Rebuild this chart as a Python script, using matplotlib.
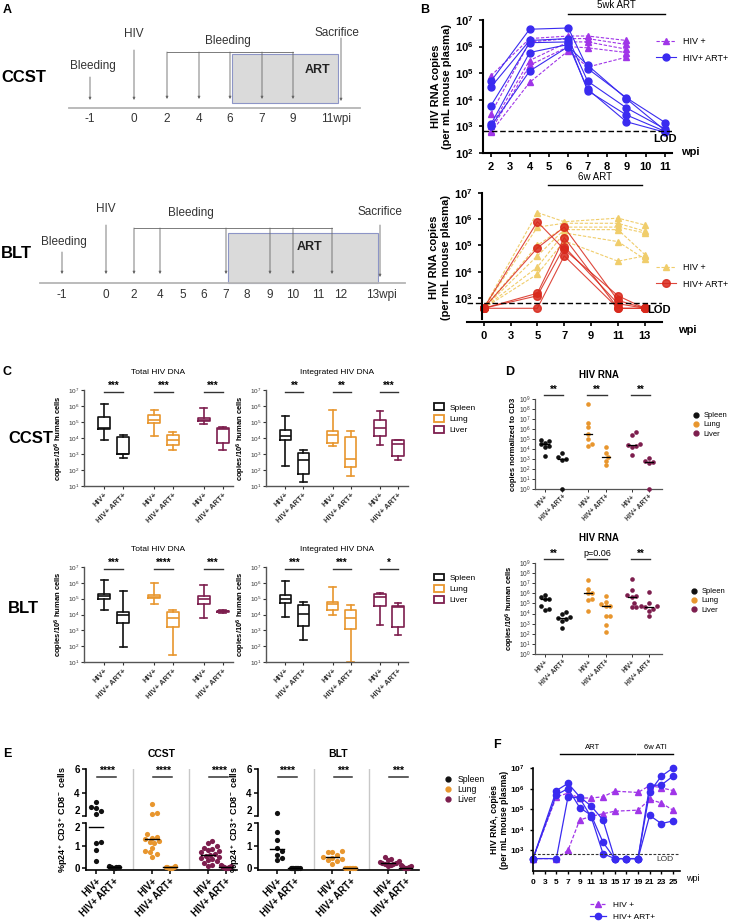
import numpy as np
import matplotlib
matplotlib.use('Agg')
import matplotlib.pyplot as plt
from matplotlib.patches import Rectangle, Patch
from matplotlib.lines import Line2D
from matplotlib.ticker import FixedLocator, FuncFormatter, NullLocator

plt.rcParams['font.family'] = ['Liberation Sans', 'DejaVu Sans']
plt.rcParams['mathtext.fontset'] = 'custom'
plt.rcParams['mathtext.rm'] = 'Liberation Sans'
plt.rcParams['mathtext.bf'] = 'Liberation Sans:bold'
plt.rcParams['mathtext.it'] = 'Liberation Sans:italic'
plt.rcParams['mathtext.default'] = 'regular'

# ---------------- data ----------------
TISSUES = ['Spleen', 'Lung', 'Liver']
TISSUE_COLORS = ['#111111', '#E8962E', '#7D1E4E']
GROUPS = ['HIV+', 'HIV+ ART+']

# A: timelines
CCST_WEEKS = ['-1', '0', '2', '4', '6', '7', '9', '11wpi']
BLT_WEEKS = ['-1', '0', '2', '4', '5', '6', '7', '8', '9', '10', '11', '12', '13wpi']

# B top (CCST plasma viral load)
B1_TICKS = [2, 3, 4, 5, 6, 7, 8, 9, 10, 11]
B1_WEEKS_HIV = [2, 4, 6, 7, 9]
B1_HIV = [[8e4, 2e6, 2.5e6, 2.5e6, 1.7e6],
          [3e3, 1.5e6, 2e6, 2e6, 1.2e6],
          [1e3, 3e5, 1.5e6, 1.5e6, 8e5],
          [700, 2e5, 1e6, 9e5, 6e5],
          [600, 4.5e4, 7e5, 1.7e5, 4e5]]
B1_WEEKS_ART = [2, 4, 6, 7, 9, 11]
B1_ART = [[5e4, 4.5e6, 5e6, 1.5e5, 1.2e4, 1.4e3],
          [3e4, 1.7e6, 2e6, 5e4, 5e3, 800],
          [6e3, 1.4e6, 1.5e6, 2.2e4, 2.7e3, 650],
          [1.2e3, 6e5, 1.2e6, 2.5e4, 1.5e3, 600],
          [1e3, 1.2e5, 1e6, 2e5, 1.1e4, 700]]

# B bottom (BLT plasma viral load)
B2_TICKS = ['0', '3', '5', '7', '9', '11', '13']
B2_WEEKS = ['0', '5', '7', '11', '13']
B2_HIV = [[400, 1.8e6, 8e5, 1.1e6, 6e5],
          [400, 5e5, 7e5, 7e5, 3.5e5],
          [400, 1e5, 5e5, 5e5, 3e5],
          [400, 4e4, 4e5, 4e5, 4.5e4],
          [400, 1.5e4, 3e5, 1.4e5, 3e4],
          [400, 8e3, 1.5e5, 2.5e4, 4e4]]
B2_ART = [[400, 8e5, 7e4, 1.2e3, 400],
          [400, 8e4, 5e5, 800, 400],
          [400, 1.5e3, 2e5, 400, 400],
          [400, 1.2e3, 9e4, 600, 400],
          [400, 400, 4e4, 400, 400]]
LOD = 650

# C: box stats (whisker low, q1, median, q3, whisker high) per tissue x group
C_CCST_TOTAL = [(8e3, 3.5e4, 4e4, 2e5, 1.3e6), (6e2, 1e3, 1e3, 1.1e4, 1.6e4),
                (1.3e4, 9e4, 1.4e5, 2.6e5, 6e5), (1.8e3, 3.5e3, 7e3, 1.6e4, 2.5e4),
                (8e4, 1.1e5, 1.4e5, 1.7e5, 8e5), (1.7e3, 5e3, 3.5e4, 4.5e4, 5e4)]
C_CCST_INT = [(170, 8e3, 1.3e4, 3e4, 2.4e5), (18, 54, 450, 1.2e3, 1.9e3),
              (3.2e3, 5e3, 1.6e4, 2.6e4, 5.3e5), (43, 160, 500, 1.2e4, 2.7e4),
              (3.5e3, 1.3e4, 4.5e4, 1.3e5, 4.6e5), (400, 700, 4e3, 7e3, 7.5e3)]
C_BLT_TOTAL = [(1.8e4, 9.5e4, 1.5e5, 2e5, 1.5e6), (90, 3e3, 1e4, 1.4e4, 3e5),
               (4.9e4, 1.05e5, 1.3e5, 1.8e5, 1e6), (26, 1.7e3, 5.9e3, 1.5e4, 1.9e4),
               (5.9e3, 4.4e4, 9e4, 1.5e5, 6.8e5), (1.3e4, 1.4e4, 1.6e4, 1.7e4, 1.8e4)]
C_BLT_INT = [(6.8e3, 5.6e4, 1e5, 1.7e5, 1.3e6), (260, 2e3, 1.1e4, 3.8e4, 6.5e4),
             (9.5e3, 1.9e4, 4.4e4, 6.5e4, 5.6e5), (10, 1.3e3, 5.9e3, 1.8e4, 4e4),
             (2.1e3, 3.7e4, 1.3e5, 1.9e5, 2.2e5), (490, 1.6e3, 2.9e4, 3.7e4, 5.6e4)]
C_STARS = {'ccst_total': ['***', '***', '***'], 'ccst_int': ['**', '**', '***'],
           'blt_total': ['***', '****', '***'], 'blt_int': ['***', '***', '*']}

# D: cell-associated HIV RNA (points per mouse)
D_TOP = [[8e4, 6e4, 4e4, 3e4, 1.5e4, 2e4, 2e3], [4e3, 1.5e3, 1e3, 8e2, 1],
         [3e8, 4e6, 1.5e6, 3e5, 1e5, 3.5e4, 2e4], [1.6e4, 4e3, 1.7e3, 7e2, 2.5e2],
         [5e5, 2.5e5, 3e4, 2.5e4, 2e4, 1.7e4, 2.5e3], [1.2e3, 7e2, 5e2, 4e2, 1]]
D_BOT = [[7e5, 4.5e5, 3e5, 2.5e5, 5e4, 3e4, 2.5e4], [1.3e4, 1e4, 5e3, 4e3, 3e3, 2e3, 4e2],
         [2e7, 3e6, 1e6, 1e6, 3e5, 2e5, 2e4], [5e5, 1.5e5, 8e4, 6e4, 5e4, 6e3, 6e3, 7e2, 1.5e2],
         [2.5e7, 2e6, 7e5, 5e5, 4e5, 1e5, 4e4, 4e4], [1.5e6, 1e5, 5e4, 4e4, 5e4, 3e4, 2e4, 6e3]]
D_STARS_TOP = ['**', '**', '**']
D_STARS_BOT = ['**', 'p=0.06', '**']

# E: %p24+ cells
E_CCST = [[3.2, 2.75, 2.4, 2.7, 2.2, 1.15, 1.1, 0.8, 0.3],
          [0.08, 0.06, 0.05, 0.05, 0.04, 0.04, 0.03, 0.03, 0.02],
          [3.05, 2.3, 2.2, 1.5, 1.4, 1.35, 1.3, 1.2, 1.15, 1.1, 0.9, 0.75, 0.7, 0.65, 0.5],
          [0.08, 0.06, 0.05, 0.04, 0.03, 0.03, 0.02, 0.02],
          [1.2, 1.1, 1.0, 0.9, 0.85, 0.8, 0.75, 0.7, 0.65, 0.6, 0.55, 0.5, 0.45, 0.4,
           0.35, 0.3, 0.25, 0.15, 0.1],
          [0.12, 0.1, 0.08, 0.07, 0.05, 0.05, 0.04, 0.03, 0.03, 0.02, 0.02]]
E_CCST_LINE = [1.84, 0.04, 1.28, 0.04, 0.58, 0.04]
E_BLT = [[2.3, 1.6, 1.25, 0.9, 0.75, 0.6, 0.45, 0.35],
         [0.03, 0.02, 0.02, 0.01, 0.01, 0.01, 0.0, 0.0],
         [0.75, 0.72, 0.7, 0.6, 0.5, 0.45, 0.4, 0.35, 0.3, 0.2],
         [0.03, 0.02, 0.02, 0.01, 0.01, 0.01, 0.0],
         [0.5, 0.4, 0.35, 0.3, 0.28, 0.25, 0.22, 0.2, 0.18, 0.15, 0.1],
         [0.15, 0.1, 0.08, 0.06, 0.04, 0.03, 0.02, 0.01, 0.0]]
E_BLT_LINE = [0.83, 0.01, 0.48, 0.01, 0.25, 0.02]
E_STARS_CCST = ['****', '****', '****']
E_STARS_BLT = ['****', '***', '***']

# F: ART interruption
F_TICKS = ['0', '3', '5', '7', '9', '11', '13', '15', '17', '19', '21', '23', '25']
F_WEEKS_HIV = ['0', '5', '7', '9', '11', '13', '15', '19', '21', '23', '25']
F_HIV = [[400, 4e5, 6e5, 3.5e5, 3.5e5, 4e5, 7.5e5, 6.5e5, 1.4e6, 1.1e6, 8e5],
         [400, 400, 1e3, 3e4, 4.5e4, 6e4, 8e4, 9e4, 3e5, 2e5, 9e4]]
F_WEEKS_ART = ['0', '5', '7', '9', '11', '13', '15', '17', '19', '21', '23', '25']
F_ART = [[400, 8e5, 1.8e6, 4e5, 1.4e5, 3e4, 400, 400, 400, 7e5, 4e6, 1e7],
         [400, 5e5, 1e6, 1.2e5, 5e4, 2.5e3, 400, 400, 400, 1.4e6, 1.5e6, 4e6],
         [400, 400, 4e5, 3.5e5, 4e4, 700, 400, 400, 400, 5e4, 2e4, 2.7e4]]

PURPLE = '#A035E8'
BLUE = '#3A2BF0'
YELLOW = '#F0CD6B'
RED = '#D8281B'

# ---------------- figure ----------------
W, H = 729, 922
fig = plt.figure(figsize=(W / 100, H / 100), dpi=100)


def add_ax(x0, y0, x1, y1):
    ax = fig.add_axes([x0 / W, 1 - y1 / H, (x1 - x0) / W, (y1 - y0) / H])
    ax.patch.set_alpha(0)
    for s in ('top', 'right'):
        ax.spines[s].set_visible(False)
    return ax


def log_fmt(bold=False):
    if bold:
        return FuncFormatter(lambda v, p: r'$\mathbf{10^{%d}}$' % int(round(np.log10(v))))
    return FuncFormatter(lambda v, p: r'$10^{%d}$' % int(round(np.log10(v))))


ax0 = fig.add_axes([0, 0, 1, 1])
ax0.set_xlim(0, W)
ax0.set_ylim(H, 0)
ax0.axis('off')

# panel letters
for lab, x, y in [('A', 3, 10), ('B', 420, 10), ('C', 3, 372), ('D', 505, 372),
                  ('E', 3, 754), ('F', 493, 745)]:
    ax0.text(x, y, lab, fontsize=9, fontweight='bold', ha='left', va='center')

# ---------------- A: schematic ----------------
TXT = '#333333'
LN = '#666666'


def arrow(x, y0, y1):
    ax0.annotate('', xy=(x, y1), xytext=(x, y0),
                 arrowprops=dict(arrowstyle='-|>', color=LN, lw=0.6, mutation_scale=3.5,
                                 shrinkA=0, shrinkB=0))


# CCST timeline
ccst_x = [90, 134, 167, 199, 230, 262, 293, 336]
ax0.add_patch(Rectangle((232, 54), 106, 49, facecolor='#dadada', edgecolor='#8d95c7', lw=0.8))
ax0.plot([69, 360], [108, 108], color='#b5b5b5', lw=1.3)
for lab, x in zip(CCST_WEEKS, ccst_x):
    ax0.text(x, 119, lab, ha='center', va='center', fontsize=8.5, color=TXT)
arrow(90, 77, 100)
arrow(134, 50, 100)
ax0.plot([167, 293], [52, 52], color=LN, lw=0.6)
for x in [167, 199, 230, 262, 293]:
    arrow(x, 52, 99)
arrow(341, 38, 101)
ax0.text(93, 66, 'Bleeding', ha='center', va='center', fontsize=8.5, color=TXT)
ax0.text(134, 34, 'HIV', ha='center', va='center', fontsize=8.5, color=TXT)
ax0.text(228, 41, 'Bleeding', ha='center', va='center', fontsize=8.5, color=TXT)
ax0.text(337, 33, 'Sacrifice', ha='center', va='center', fontsize=8.5, color=TXT)
ax0.text(318, 70, 'ART', ha='center', va='center', fontsize=9, fontweight='bold', color='#222')
ax0.text(1, 78, 'CCST', ha='left', va='center', fontsize=12, fontweight='bold')

# BLT timeline
blt_x = [62, 106, 134, 160, 183, 204, 226, 247, 270, 293, 318, 341, 381]
ax0.add_patch(Rectangle((228, 233), 150, 50, facecolor='#dadada', edgecolor='#8d95c7', lw=0.8))
ax0.plot([40, 405], [283, 283], color='#b5b5b5', lw=1.3)
for lab, x in zip(BLT_WEEKS, blt_x):
    ax0.text(x, 295, lab, ha='center', va='center', fontsize=8.5, color=TXT)
arrow(62, 252, 274)
arrow(106, 225, 274)
ax0.plot([134, 332], [228, 228], color=LN, lw=0.6)
for x in [134, 160, 226, 270, 293, 332]:
    arrow(x, 228, 274)
arrow(380, 225, 277)
ax0.text(64, 242, 'Bleeding', ha='center', va='center', fontsize=8.5, color=TXT)
ax0.text(106, 209, 'HIV', ha='center', va='center', fontsize=8.5, color=TXT)
ax0.text(191, 213, 'Bleeding', ha='center', va='center', fontsize=8.5, color=TXT)
ax0.text(380, 212, 'Sacrifice', ha='center', va='center', fontsize=8.5, color=TXT)
ax0.text(310, 247, 'ART', ha='center', va='center', fontsize=9, fontweight='bold', color='#222')
ax0.text(1, 253, 'BLT', ha='left', va='center', fontsize=12, fontweight='bold')


# ---------------- B ----------------
def style_b(ax, fs=8):
    for s in ('left', 'bottom'):
        ax.spines[s].set_linewidth(1.5)
    ax.tick_params(width=1.2, length=3, labelsize=fs)
    ax.yaxis.set_minor_locator(NullLocator())
    ax.yaxis.set_major_formatter(log_fmt(True))
    for t in ax.get_xticklabels():
        t.set_fontweight('bold')


DASH = (0, (3, 1.5))

axb1 = add_ax(483, 20, 672, 153)
for i, ys in enumerate(B1_HIV):
    axb1.plot(B1_WEEKS_HIV, ys, ls=DASH, lw=0.8, color=PURPLE, marker='^', ms=4.5,
              label='HIV +' if i == 0 else None, clip_on=False)
for i, ys in enumerate(B1_ART):
    axb1.plot(B1_WEEKS_ART, ys, lw=0.8, color=BLUE, marker='o', ms=5,
              label='HIV+ ART+' if i == 0 else None, clip_on=False)
axb1.axhline(LOD, color='black', ls=(0, (4, 2)), lw=1)
axb1.set_yscale('log')
axb1.set_ylim(1e2, 1e7)
axb1.set_xlim(1.59, 11.36)
axb1.set_yticks([1e2, 1e3, 1e4, 1e5, 1e6, 1e7])
axb1.set_xticks(B1_TICKS)
style_b(axb1)
axb1.set_ylabel('HIV RNA copies\n(per mL mouse plasma)', fontsize=8, fontweight='bold', labelpad=2)
axb1.text(10.4, 3.3e2, 'LOD', fontsize=8, fontweight='bold', ha='left', va='center')
axb1.plot([6, 11], [1.045, 1.045], color='black', lw=1,
          transform=axb1.get_xaxis_transform(), clip_on=False)
axb1.text(8.5, 1.11, '5wk ART', fontsize=7, ha='center', va='center',
          transform=axb1.get_xaxis_transform())
axb1.legend(loc='center left', bbox_to_anchor=(648 / W, 1 - 50 / H), bbox_transform=fig.transFigure,
            frameon=False, fontsize=6.5, handlelength=2.2, labelspacing=0.8)
ax0.text(690, 152, 'wpi', fontsize=8, fontweight='bold', ha='center', va='center')

axb2 = add_ax(467, 193, 662, 322)
b2x = {w: i for i, w in enumerate(B2_TICKS)}
xb2 = [b2x[w] for w in B2_WEEKS]
for i, ys in enumerate(B2_HIV):
    axb2.plot(xb2, ys, ls=DASH, lw=0.8, color=YELLOW, marker='^', ms=5,
              label='HIV +' if i == 0 else None, clip_on=False)
for i, ys in enumerate(B2_ART):
    axb2.plot(xb2, ys, lw=0.8, color=RED, alpha=0.85, marker='o', ms=5.5,
              label='HIV+ ART+' if i == 0 else None, clip_on=False)
axb2.axhline(LOD, color='black', ls=(0, (4, 2)), lw=1)
axb2.set_yscale('log')
axb2.set_ylim(1.2e2, 1e7)
axb2.set_xlim(-0.62, 6.64)
axb2.set_yticks([1e3, 1e4, 1e5, 1e6, 1e7])
axb2.set_xticks(range(len(B2_TICKS)))
axb2.set_xticklabels(B2_TICKS)
axb2.spines['left'].set_position(('data', -0.08))
axb2.spines['left'].set_bounds(1.6e2, 1e7)
style_b(axb2)
axb2.set_ylabel('HIV RNA copies\n(per mL mouse plasma)', fontsize=8, fontweight='bold', labelpad=2)
axb2.text(6.1, 3.5e2, 'LOD', fontsize=8, fontweight='bold', ha='left', va='center')
axb2.plot([2.4, 5.9], [1.062, 1.062], color='black', lw=1,
          transform=axb2.get_xaxis_transform(), clip_on=False)
axb2.text(4.15, 1.125, '6w ART', fontsize=7, ha='center', va='center',
          transform=axb2.get_xaxis_transform())
axb2.legend(loc='center left', bbox_to_anchor=(648 / W, 1 - 276 / H), bbox_transform=fig.transFigure,
            frameon=False, fontsize=6.5, handlelength=2.2, labelspacing=0.8)
ax0.text(687, 330, 'wpi', fontsize=8, fontweight='bold', ha='center', va='center')

# ---------------- C ----------------
OFF = 0.19
XPOS = [g + d for g in range(3) for d in (-OFF, OFF)]


def box_panel(ax, stats, stars, title):
    bx = [dict(whislo=s[0], q1=s[1], med=s[2], q3=s[3], whishi=s[4]) for s in stats]
    for i, b in enumerate(bx):
        c = TISSUE_COLORS[i // 2]
        ax.bxp([b], positions=[XPOS[i]], widths=0.24, showfliers=False, capwidths=[0.14],
               boxprops=dict(color=c, lw=1.2), whiskerprops=dict(color=c, lw=1.2),
               capprops=dict(color=c, lw=1.2), medianprops=dict(color=c, lw=1.2),
               manage_ticks=False)
    ax.set_yscale('log')
    ax.set_ylim(10, 1e7)
    ax.set_xlim(-0.6, 2.4)
    ax.yaxis.set_major_locator(FixedLocator([10 ** k for k in range(1, 8)]))
    ax.yaxis.set_minor_locator(NullLocator())
    ax.yaxis.set_major_formatter(log_fmt())
    ax.set_xticks(XPOS)
    ax.set_xticklabels(GROUPS * 3, rotation=45, ha='right', rotation_mode='anchor',
                       fontsize=5.5, fontweight='bold')
    ax.tick_params(axis='y', labelsize=4.6, length=2.5, width=0.8, pad=1, colors='#333')
    ax.tick_params(axis='x', length=2.5, width=0.8, pad=1.5, colors='#333')
    for s in ('left', 'bottom'):
        ax.spines[s].set_color('#555')
        ax.spines[s].set_linewidth(1.0)
    ax.set_ylabel('copies/10$^6$ human cells', fontsize=5.5, fontweight='bold', labelpad=1)
    for g, st in enumerate(stars):
        ax.plot([g - OFF, g + OFF], [7.5e6, 7.5e6], color='#333', lw=1, clip_on=False)
        ax.text(g, 8.5e6, st, ha='center', va='bottom', fontsize=7, fontweight='bold', clip_on=False)
    ax.text(0.5, 1.18, title, transform=ax.transAxes, ha='center', va='center', fontsize=6)


axc1 = add_ax(84, 390, 233, 486)
box_panel(axc1, C_CCST_TOTAL, C_STARS['ccst_total'], 'Total HIV DNA')
axc2 = add_ax(266, 390, 408, 486)
box_panel(axc2, C_CCST_INT, C_STARS['ccst_int'], 'Integrated HIV DNA')
axc3 = add_ax(84, 567, 233, 662)
box_panel(axc3, C_BLT_TOTAL, C_STARS['blt_total'], 'Total HIV DNA')
axc4 = add_ax(266, 567, 408, 662)
box_panel(axc4, C_BLT_INT, C_STARS['blt_int'], 'Integrated HIV DNA')
ax0.text(8, 438, 'CCST', ha='left', va='center', fontsize=12, fontweight='bold')
ax0.text(8, 608, 'BLT', ha='left', va='center', fontsize=12, fontweight='bold')

box_handles = [Patch(facecolor='white', edgecolor=c, lw=1.3, label=t)
               for t, c in zip(TISSUES, TISSUE_COLORS)]
for ytop in (396, 566):
    fig.legend(handles=box_handles, loc='upper left', bbox_to_anchor=(426 / W, 1 - ytop / H),
               frameon=False, fontsize=6, handlelength=1.3, handleheight=0.9, labelspacing=0.35,
               handletextpad=0.6)


# ---------------- D ----------------
def swarm_offsets(yp, diam, maxw):
    offs = np.zeros(len(yp))
    placed = []
    cands = [0.0]
    for k in range(1, 40):
        cands += [k * diam * 0.5, -k * diam * 0.5]
    for i in np.argsort(yp):
        for c in cands:
            if all((c - ox) ** 2 + (yp[i] - oy) ** 2 >= 0.9 * diam ** 2 for ox, oy in placed):
                break
        placed.append((c, yp[i]))
        offs[i] = c
    m = np.abs(offs).max()
    if m > maxw:
        offs = offs * maxw / m
    return offs


DOFF = 0.2
DPOS = [g + d for g in range(3) for d in (-DOFF, DOFF)]


def dot_panel(ax, groups, stars, ylabel):
    for i, vals in enumerate(groups):
        vals = np.array(vals, float)
        yp = np.log10(vals) * 10.0
        xo = swarm_offsets(yp, 4.2, 8) / 43.5
        ax.scatter(DPOS[i] + xo, vals, s=11, color=TISSUE_COLORS[i // 2], lw=0, clip_on=False, zorder=3)
        m = np.median(vals)
        ax.plot([DPOS[i] - 0.09, DPOS[i] + 0.09], [m, m], color='black', lw=0.9, zorder=4)
    ax.set_yscale('log')
    ax.set_ylim(1, 1e9)
    ax.set_xlim(-0.43, 2.5)
    ax.yaxis.set_major_locator(FixedLocator([10 ** k for k in range(0, 10)]))
    ax.yaxis.set_minor_locator(NullLocator())
    ax.yaxis.set_major_formatter(log_fmt())
    ax.set_xticks(DPOS)
    ax.set_xticklabels(GROUPS * 3, rotation=45, ha='right', rotation_mode='anchor',
                       fontsize=5, fontweight='bold')
    ax.tick_params(labelsize=4.8, length=2, width=0.7, pad=1.2, colors='#333')
    for s in ('left', 'bottom'):
        ax.spines[s].set_color('#555')
        ax.spines[s].set_linewidth(0.9)
    ax.set_ylabel(ylabel, fontsize=5.5, fontweight='bold', labelpad=1)
    for g, st in enumerate(stars):
        ax.plot([g - DOFF - 0.02, g + DOFF + 0.02], [2.5e9, 2.5e9], color='#333', lw=1, clip_on=False)
        if st.startswith('p'):
            ax.text(g, 3e9, st, ha='center', va='bottom', fontsize=6.5, clip_on=False)
        else:
            ax.text(g, 2.6e9, st, ha='center', va='bottom', fontsize=7, fontweight='bold', clip_on=False)
    ax.text(0.5, 1.27, 'HIV RNA', transform=ax.transAxes, ha='center', va='center',
            fontsize=7, fontweight='bold')


axd1 = add_ax(535, 399, 662, 489)
dot_panel(axd1, D_TOP, D_STARS_TOP, 'copies normalized to CD3')
axd2 = add_ax(535, 563, 662, 654)
dot_panel(axd2, D_BOT, D_STARS_BOT, 'copies/10$^6$ human cells')

dot_handles = [Line2D([], [], ls='none', marker='o', ms=3.5, color=c, label=t)
               for t, c in zip(TISSUES, TISSUE_COLORS)]
fig.legend(handles=dot_handles, loc='upper left', bbox_to_anchor=(686 / W, 1 - 405 / H),
           frameon=False, fontsize=5.5, handlelength=0.8, labelspacing=0.25, handletextpad=0.6)
fig.legend(handles=dot_handles, loc='upper left', bbox_to_anchor=(684 / W, 1 - 581 / H),
           frameon=False, fontsize=5.5, handlelength=0.8, labelspacing=0.25, handletextpad=0.6)

# ---------------- E ----------------
GAP = 0.31
K = 0.522


def e_fwd(v):
    v = np.asarray(v, float)
    return np.where(v <= 2, v, 2 + GAP + (v - 2) * K)


def e_inv(u):
    u = np.asarray(u, float)
    return np.where(u <= 2, u, np.where(u < 2 + GAP, 2.0, 2 + (u - 2 - GAP) / K))


EOFF = 0.16
EPOS = [g + d for g in range(3) for d in (-EOFF, EOFF)]


def e_panel(ax, groups, lines, stars, xlim, title):
    ax.set_yscale('function', functions=(e_fwd, e_inv))
    ax.set_ylim(-0.08, 6)
    ax.set_xlim(*xlim)
    for xs in (0.5, 1.5):
        ax.axvline(xs, color='#c8c8c8', lw=1, zorder=0)
    for i, vals in enumerate(groups):
        vals = np.array(vals, float)
        yp = e_fwd(vals) * 22.5
        maxw = 11 if i % 2 == 0 else 5
        xo = swarm_offsets(yp, 4.8, maxw) / 56.0
        ax.scatter(EPOS[i] + xo, vals, s=14, color=TISSUE_COLORS[i // 2], lw=0, clip_on=False, zorder=3)
        ax.plot([EPOS[i] - 0.12, EPOS[i] + 0.12], [lines[i], lines[i]], color='black', lw=1, zorder=4)
    ax.spines['left'].set_visible(False)
    ax.plot([0, 0], [-0.08, 2], color='black', lw=1.2, transform=ax.get_yaxis_transform(), clip_on=False)
    ax.plot([0, 0], [2.000001, 6], color='black', lw=1.2, transform=ax.get_yaxis_transform(), clip_on=False)
    ax.spines['bottom'].set_linewidth(1.2)
    ax.set_yticks([0, 1, 2, 2.000001, 4, 6])
    labs = ax.set_yticklabels(['0', '1', '2', '2', '4', '6'], fontweight='bold')
    labs[2].set_va('top')
    labs[3].set_va('bottom')
    ax.yaxis.set_minor_locator(NullLocator())
    ax.set_xticks(EPOS)
    ax.set_xticklabels(GROUPS * 3, rotation=45, ha='right', rotation_mode='anchor',
                       fontsize=6.5, fontweight='bold')
    ax.tick_params(labelsize=7, length=3, width=1.1, pad=1.5)
    ax.set_ylabel('%p24$^+$ CD3$^+$ CD8$^-$ cells', fontsize=6.5, fontweight='bold', labelpad=3)
    for g, st in enumerate(stars):
        ax.plot([g - EOFF + 0.02, g + EOFF + 0.04], [5.3, 5.3], color='#333', lw=1.1, clip_on=False)
        ax.text(g + 0.03, 5.45, st, ha='center', va='bottom', fontsize=7.5, fontweight='bold', clip_on=False)
    ax.text(0.5, 1.15, title, transform=ax.transAxes, ha='center', va='center',
            fontsize=7.5, fontweight='bold')


axe1 = add_ax(86, 769, 237, 870)
e_panel(axe1, E_CCST, E_CCST_LINE, E_STARS_CCST, (-0.34, 2.36), 'CCST')
axe2 = add_ax(258, 769, 419, 870)
e_panel(axe2, E_BLT, E_BLT_LINE, E_STARS_BLT, (-0.5, 2.4), 'BLT')
fig.legend(handles=dot_handles, loc='upper left', bbox_to_anchor=(437 / W, 1 - 767 / H),
           frameon=False, fontsize=6.2, handlelength=0.8, labelspacing=0.15, handletextpad=0.7)

# ---------------- F ----------------
axf = add_ax(533, 768, 680, 871)
fx = {w: i for i, w in enumerate(F_TICKS)}
for i, ys in enumerate(F_HIV):
    axf.plot([fx[w] for w in F_WEEKS_HIV], ys, ls=DASH, lw=0.9, color=PURPLE, marker='^', ms=4,
             label='HIV +' if i == 0 else None, clip_on=False)
for i, ys in enumerate(F_ART):
    axf.plot([fx[w] for w in F_WEEKS_ART], ys, lw=0.9, color=BLUE, marker='o', ms=4.5,
             label='HIV+ ART+' if i == 0 else None, clip_on=False)
axf.axhline(LOD, color='#333', ls=(0, (2.5, 1.5)), lw=0.8)
axf.set_yscale('log')
axf.set_ylim(1e2, 1e7)
axf.set_xlim(0, 12.6)
axf.set_yticks([1e3, 1e4, 1e5, 1e6, 1e7])
axf.set_xticks(range(len(F_TICKS)))
axf.set_xticklabels(F_TICKS)
style_b(axf, fs=6)
axf.tick_params(width=1, length=2.5)
axf.spines['left'].set_linewidth(1.2)
axf.spines['bottom'].set_linewidth(1.2)
axf.set_ylabel('HIV RNA, copies\n(per mL mouse plasma)', fontsize=6.3, fontweight='bold', labelpad=0.5)
axf.text(11.3, 3.8e2, 'LOD', fontsize=6, ha='center', va='center', color='#333')
axf.plot([2.3, 8.75], [1.136, 1.136], color='black', lw=1, transform=axf.get_xaxis_transform(), clip_on=False)
axf.plot([8.9, 12.0], [1.136, 1.136], color='black', lw=1, transform=axf.get_xaxis_transform(), clip_on=False)
axf.text(5.1, 1.2, 'ART', fontsize=5.5, ha='center', va='center', transform=axf.get_xaxis_transform())
axf.text(10.45, 1.2, '6w ATI', fontsize=5.5, ha='center', va='center', transform=axf.get_xaxis_transform())
ax0.text(693, 878, 'wpi', fontsize=6.5, ha='center', va='center')
axf.legend(loc='center left', bbox_to_anchor=(582 / W, 1 - 911 / H), bbox_transform=fig.transFigure,
           frameon=False, fontsize=6, handlelength=2.0, labelspacing=0.5)

fig.savefig('out.png', dpi=100)
